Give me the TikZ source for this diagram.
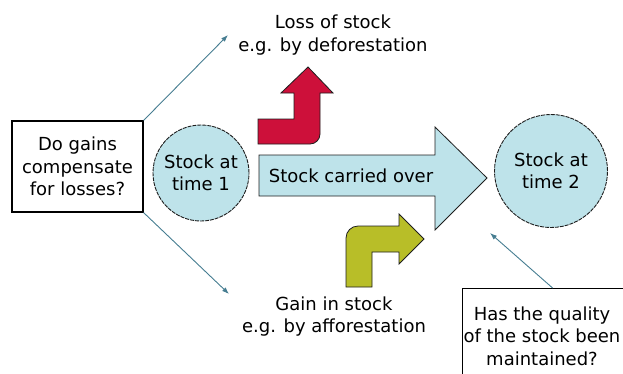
\documentclass[tikz,border=0pt]{standalone}
\usepackage{fontspec}
\setmainfont{DejaVu Sans}
\usetikzlibrary{arrows.meta}
\definecolor{stockblue}{RGB}{190,227,234}
\definecolor{lossred}{RGB}{205,16,58}
\definecolor{gaingreen}{RGB}{184,190,40}
\definecolor{connblue}{RGB}{70,125,145}
\definecolor{outline}{RGB}{30,30,30}
\begin{document}
\begin{tikzpicture}[x=1pt,y=-1pt,
  every node/.style={font=\fontsize{18}{22.5}\selectfont, text=black},
  qbox/.style={draw=black, line width=1.2pt, fill=white, inner sep=0pt, align=center},
  stock/.style={circle, draw=outline, line width=0.9pt, dash pattern=on 4pt off 1pt, fill=stockblue, inner sep=0pt, align=center},
  lbl/.style={align=center, inner sep=0pt},
  conn/.style={draw=connblue, line width=0.9pt, -{Latex[length=7pt,width=5pt]}},
  shapeline/.style={draw=outline, line width=0.8pt, line join=miter}
]
\useasboundingbox (0,0) rectangle (623,373);
\clip (0,0) rectangle (623,373);

% nodes
\node[qbox, minimum width=131pt, minimum height=91pt] (gains) at (77.5,166.5) {Do gains\\compensate\\for losses?};
\node[stock, minimum size=96pt] (t1) at (201,173) {Stock at\\time 1};
\node[stock, minimum size=113pt] (t2) at (551,171) {Stock at\\time 2};
\node[qbox, minimum width=180pt, minimum height=120pt, anchor=north west] (quality) at (462,288) {};
\node[lbl] (qtext) at (542,336) {Has the quality\\of the stock been\\maintained?};
\node[lbl] (loss) at (333,35) {Loss of stock\\e.g. by deforestation};
\node[lbl] (gain) at (334,316.5) {Gain in stock\\e.g. by afforestation};

% big arrow
\draw[shapeline, fill=stockblue] (259,155) -- (435,155) -- (435,127) -- (487,178) -- (435,230) -- (435,196) -- (259,196) -- cycle;
\node[lbl] (carried) at (351,176) {Stock carried over};

% red loss arrow
\draw[shapeline, fill=lossred] (258,119) -- (294,119) -- (294,93) -- (281,93) -- (308,67) -- (333,93) -- (320,93) -- (320,134)
  arc[start angle=0, end angle=90, radius=10] -- (258,144) -- cycle;

% green gain arrow
\draw[shapeline, fill=gaingreen] (346,287) -- (346,238) arc[start angle=180, end angle=270, radius=12]
  -- (399,226) -- (399,214) -- (424,239) -- (399,264) -- (399,252) -- (372,252) -- (372,287) -- cycle;

% connectors
\coordinate (losstip) at (228,35);
\coordinate (gaintip) at (229,294);
\coordinate (qtip) at (490,233);
\draw[conn] (gains.north east) -- (losstip);
\draw[conn] (gains.south east) -- (gaintip);
\draw[conn] (quality.north) -- (qtip);
\end{tikzpicture}
\end{document}
